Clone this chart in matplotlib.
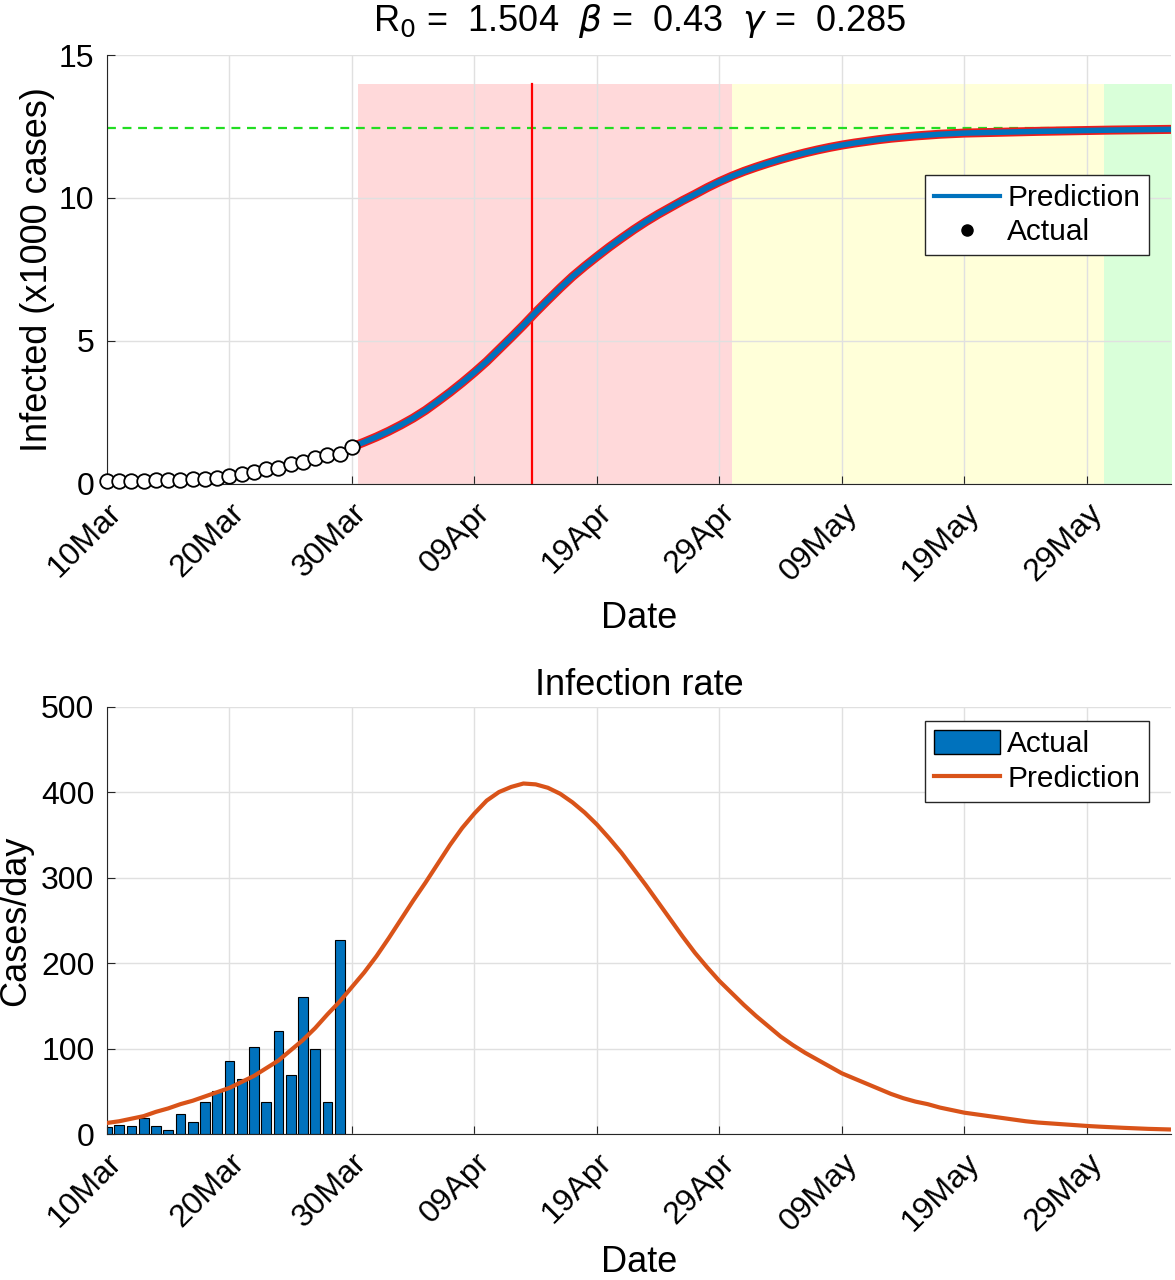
import numpy as np
import matplotlib.pyplot as plt
from matplotlib.lines import Line2D
from matplotlib.patches import Patch

plt.rcParams['font.family'] = ['Liberation Sans', 'DejaVu Sans']
plt.rcParams['mathtext.fontset'] = 'dejavusans'

# days counted from 10 Mar
tick_days = [0, 10, 20, 30, 40, 50, 60, 70, 80]
tick_labels = ['10Mar', '20Mar', '30Mar', '09Apr', '19Apr', '29Apr', '09May', '19May', '29May']

# actual cumulative infected (x1000), 10 Mar .. 30 Mar
actual_days = list(range(21))
actual_cum = [0.085, 0.093, 0.104, 0.113, 0.132, 0.142, 0.147, 0.170, 0.184, 0.221, 0.271,
              0.356, 0.421, 0.523, 0.560, 0.680, 0.749, 0.909, 1.008, 1.045, 1.272]

# predicted cumulative infected (x1000), from 30 Mar
pred_days = list(range(20, 71)) + [72, 74, 76, 78, 80, 82, 84, 87]
pred_cum = [1.29, 1.46, 1.64, 1.84, 2.06, 2.30, 2.57, 2.88, 3.20, 3.54,
            3.90, 4.28, 4.70, 5.12, 5.55, 6.00, 6.43, 6.85, 7.25, 7.61,
            7.95, 8.28, 8.59, 8.89, 9.17, 9.43, 9.67, 9.91, 10.13, 10.36,
            10.57, 10.76, 10.93, 11.08, 11.22, 11.35, 11.47, 11.58, 11.68, 11.77,
            11.85, 11.92, 11.98, 12.04, 12.09, 12.13, 12.17, 12.20, 12.23, 12.25,
            12.27, 12.29, 12.31, 12.33, 12.345, 12.36, 12.375, 12.385, 12.40]
final_size = 12.44
peak_day = 34.7

# phases (shaded)
phase_edges = [20.5, 51.0, 81.4, 87.0]
phase_colors = ['#ffd9da', '#ffffd9', '#d9ffd9']

# daily new cases, 10 Mar .. 29 Mar
bar_days = list(range(20))
bar_vals = [8, 11, 9, 19, 10, 5, 23, 14, 37, 50, 85, 65, 102, 37, 120, 69, 160, 99, 37, 227]

# predicted infection rate (cases/day)
rate_days = list(range(88))
rate_vals = [13, 15, 18, 21, 26, 30, 35, 39, 44, 49,
             54, 61, 68, 77, 86, 98, 110, 124, 140, 155,
             172, 189, 208, 229, 251, 273, 294, 316, 338, 358,
             375, 390, 400, 406, 410, 409, 405, 398, 388, 376,
             362, 346, 329, 310, 291, 271, 251, 231, 212, 195,
             179, 165, 151, 138, 126, 114, 104, 95, 87, 79,
             71, 65, 59, 53, 47, 42, 38, 35, 31, 28,
             25, 23, 21, 19, 17, 15, 13.5, 12.5, 11.5, 10.5,
             9.5, 8.7, 8, 7.3, 6.7, 6.1, 5.7, 5.3]

blue = '#0072BD'
orange = '#D95319'
xmax = 86.9

fig = plt.figure(figsize=(11.75, 12.8), dpi=100)
ax1 = fig.add_axes([0.091, 0.622, 0.906, 0.335])
ax2 = fig.add_axes([0.091, 0.114, 0.906, 0.334])

def style(ax, xpad):
    ax.set_xlim(0, xmax)
    ax.set_xticks(tick_days)
    ax.set_xticklabels(tick_labels, rotation=45, ha='right', rotation_mode='anchor')
    ax.tick_params(direction='in', length=6, labelsize=23, colors='#262626')
    ax.tick_params(axis='x', labelcolor='black', pad=10)
    ax.tick_params(axis='y', labelcolor='black', pad=9)
    for s in ['top', 'right']:
        ax.spines[s].set_visible(False)
    for s in ['left', 'bottom']:
        ax.spines[s].set_color('#262626')
    ax.grid(True, color='#e0e0e0', linewidth=1)
    ax.set_axisbelow(True)
    ax.set_xlabel('Date', fontsize=26, labelpad=xpad)

# top panel
style(ax1, 10)
for i in range(3):
    ax1.fill_between([phase_edges[i], phase_edges[i + 1]], 0, 14, color=phase_colors[i],
                     linewidth=0, zorder=0.5)
ax1.axhline(final_size, color='#22dd22', linestyle='--', dashes=(4, 3), linewidth=1.6, zorder=1)
ax1.plot([peak_day, peak_day], [0, 14], color='red', linewidth=1.6, zorder=1)
ax1.plot(pred_days, pred_cum, color='#ee1c1c', linewidth=6.5, solid_capstyle='butt', zorder=2)
ax1.plot(pred_days, pred_cum, color=blue, linewidth=4, solid_capstyle='butt', zorder=3)
ax1.plot(actual_days, actual_cum, 'o', markerfacecolor='white', markeredgecolor='black',
         markersize=10.5, markeredgewidth=1.3, zorder=4, clip_on=False)
ax1.set_ylim(0, 15)
ax1.set_yticks([0, 5, 10, 15])
ax1.set_ylabel('Infected (x1000 cases)', fontsize=26, labelpad=3)
ax1.set_title(r'R$_0$ =  1.504  $\beta$ =  0.43  $\gamma$ =  0.285', fontsize=26, pad=17)
h1 = [Line2D([], [], color=blue, linewidth=3),
      Line2D([], [], color='black', marker='o', linestyle='none', markersize=8)]
leg1 = ax1.legend(h1, ['Prediction', 'Actual'], loc='upper right', bbox_to_anchor=(0.979, 0.72),
                  borderaxespad=0, fontsize=21.5, fancybox=False, edgecolor='#262626',
                  framealpha=1, handlelength=2.2, borderpad=0.3, labelspacing=0.2,
                  handletextpad=0.25)
leg1.get_frame().set_linewidth(1)

# bottom panel
style(ax2, 6)
ax2.bar(bar_days, bar_vals, width=0.8, color=blue, edgecolor='black', linewidth=0.8, zorder=2)
ax2.plot(rate_days, rate_vals, color=orange, linewidth=3, zorder=3)
ax2.set_ylim(0, 500)
ax2.set_yticks([0, 100, 200, 300, 400, 500])
ax2.set_ylabel('Cases/day', fontsize=26, labelpad=6)
ax2.set_title('Infection rate', fontsize=26, pad=8)
h2 = [Patch(facecolor=blue, edgecolor='black'), Line2D([], [], color=orange, linewidth=3)]
leg2 = ax2.legend(h2, ['Actual', 'Prediction'], loc='upper right', bbox_to_anchor=(0.979, 0.967),
                  borderaxespad=0, fontsize=21.5, fancybox=False, edgecolor='#262626',
                  framealpha=1, handlelength=2.2, handleheight=0.9, borderpad=0.3,
                  labelspacing=0.2, handletextpad=0.25)
leg2.get_frame().set_linewidth(1)

fig.savefig('out.png', dpi=100)
